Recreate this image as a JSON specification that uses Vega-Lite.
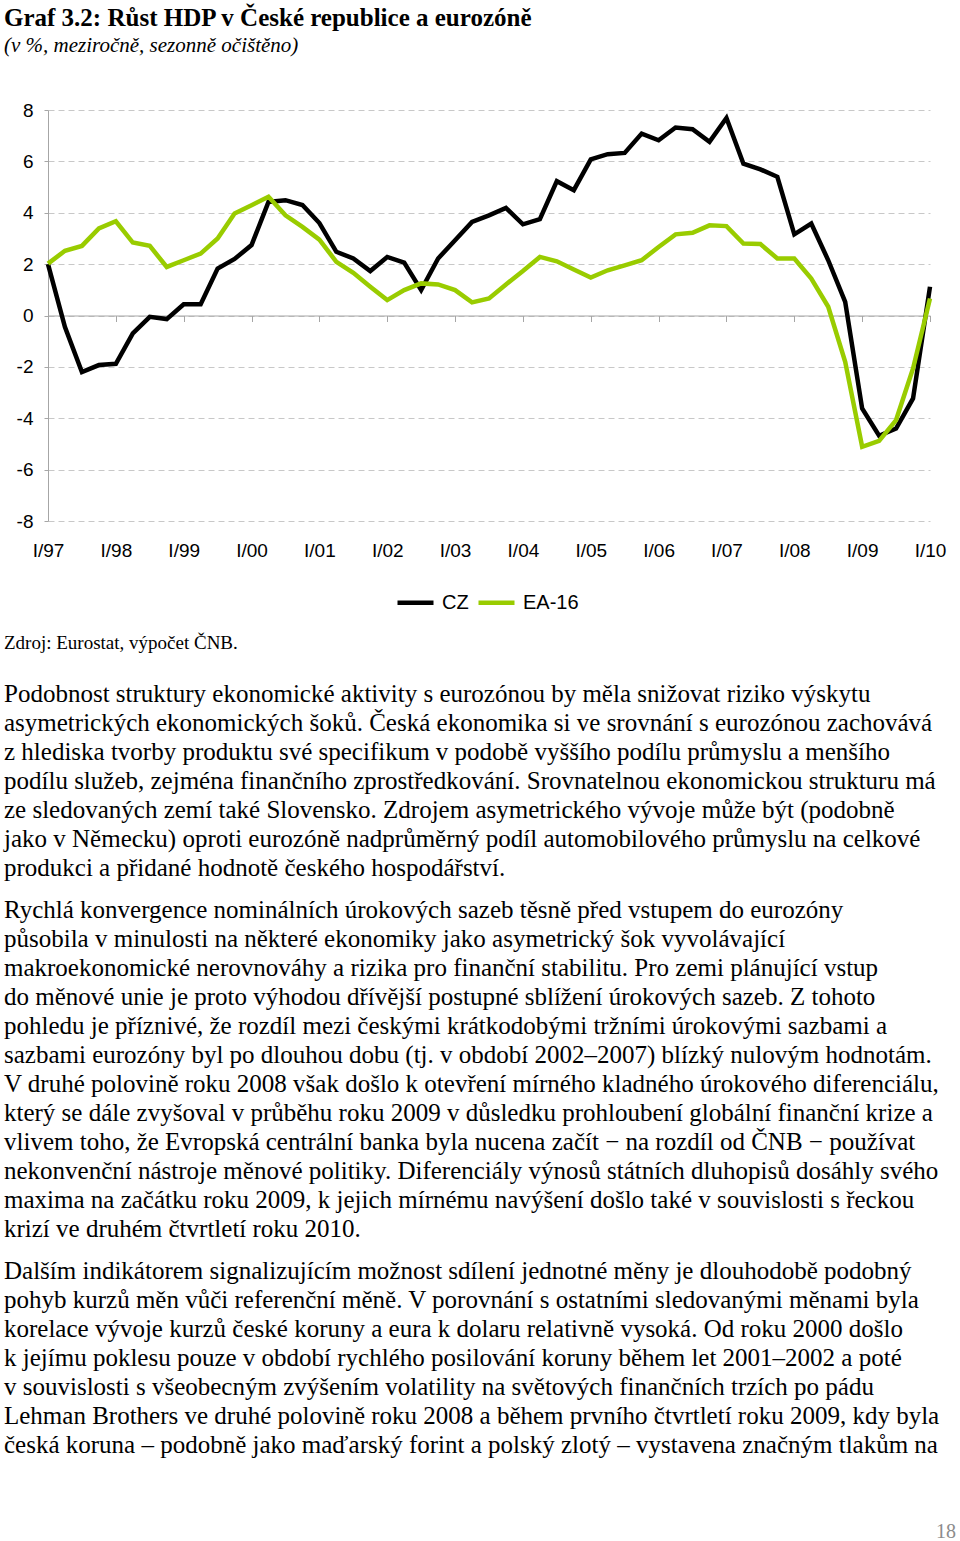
{
  "$schema": "https://vega.github.io/schema/vega-lite/v6.json",
  "padding": {"left": 4, "top": 6, "right": 0, "bottom": 0},
  "background": "white",
  "bounds": "flush",
  "spacing": 107,
  "resolve": {"legend": {"color": "independent"}},
  "title": {
    "text": "Graf 3.2: Růst HDP v České republice a eurozóně",
    "subtitle": "(v %, meziročně, sezonně očištěno)",
    "anchor": "start",
    "frame": "bounds",
    "font": "Liberation Serif",
    "fontSize": 25,
    "fontWeight": "bold",
    "color": "#000000",
    "subtitleFont": "Liberation Serif",
    "subtitleFontSize": 21,
    "subtitleFontStyle": "italic",
    "subtitleColor": "#000000",
    "subtitlePadding": 4,
    "offset": 45
  },
  "config": {"view": {"stroke": null}},
  "vconcat": [
    {
      "width": 882,
      "height": 411,
      "data": {"values": [
        {"q":"I/97","s":"CZ","v":2.0},{"q":"II/97","s":"CZ","v":-0.45},{"q":"III/97","s":"CZ","v":-2.2},{"q":"IV/97","s":"CZ","v":-1.93},
        {"q":"I/98","s":"CZ","v":-1.88},{"q":"II/98","s":"CZ","v":-0.7},{"q":"III/98","s":"CZ","v":-0.05},{"q":"IV/98","s":"CZ","v":-0.14},
        {"q":"I/99","s":"CZ","v":0.44},{"q":"II/99","s":"CZ","v":0.44},{"q":"III/99","s":"CZ","v":1.83},{"q":"IV/99","s":"CZ","v":2.2},
        {"q":"I/00","s":"CZ","v":2.74},{"q":"II/00","s":"CZ","v":4.42},{"q":"III/00","s":"CZ","v":4.49},{"q":"IV/00","s":"CZ","v":4.3},
        {"q":"I/01","s":"CZ","v":3.6},{"q":"II/01","s":"CZ","v":2.48},{"q":"III/01","s":"CZ","v":2.22},{"q":"IV/01","s":"CZ","v":1.73},
        {"q":"I/02","s":"CZ","v":2.28},{"q":"II/02","s":"CZ","v":2.06},{"q":"III/02","s":"CZ","v":0.99},{"q":"IV/02","s":"CZ","v":2.22},
        {"q":"I/03","s":"CZ","v":2.93},{"q":"II/03","s":"CZ","v":3.64},{"q":"III/03","s":"CZ","v":3.9},{"q":"IV/03","s":"CZ","v":4.19},
        {"q":"I/04","s":"CZ","v":3.55},{"q":"II/04","s":"CZ","v":3.75},{"q":"III/04","s":"CZ","v":5.23},{"q":"IV/04","s":"CZ","v":4.88},
        {"q":"I/05","s":"CZ","v":6.08},{"q":"II/05","s":"CZ","v":6.28},{"q":"III/05","s":"CZ","v":6.33},{"q":"IV/05","s":"CZ","v":7.08},
        {"q":"I/06","s":"CZ","v":6.82},{"q":"II/06","s":"CZ","v":7.32},{"q":"III/06","s":"CZ","v":7.25},{"q":"IV/06","s":"CZ","v":6.76},
        {"q":"I/07","s":"CZ","v":7.69},{"q":"II/07","s":"CZ","v":5.91},{"q":"III/07","s":"CZ","v":5.69},{"q":"IV/07","s":"CZ","v":5.4},
        {"q":"I/08","s":"CZ","v":3.16},{"q":"II/08","s":"CZ","v":3.58},{"q":"III/08","s":"CZ","v":2.15},{"q":"IV/08","s":"CZ","v":0.53},
        {"q":"I/09","s":"CZ","v":-3.62},{"q":"II/09","s":"CZ","v":-4.68},{"q":"III/09","s":"CZ","v":-4.4},{"q":"IV/09","s":"CZ","v":-3.23},
        {"q":"I/10","s":"CZ","v":1.12},
        {"q":"I/97","s":"EA-16","v":2.02},{"q":"II/97","s":"EA-16","v":2.52},{"q":"III/97","s":"EA-16","v":2.71},{"q":"IV/97","s":"EA-16","v":3.39},
        {"q":"I/98","s":"EA-16","v":3.67},{"q":"II/98","s":"EA-16","v":2.84},{"q":"III/98","s":"EA-16","v":2.71},{"q":"IV/98","s":"EA-16","v":1.89},
        {"q":"I/99","s":"EA-16","v":2.15},{"q":"II/99","s":"EA-16","v":2.41},{"q":"III/99","s":"EA-16","v":3.0},{"q":"IV/99","s":"EA-16","v":3.97},
        {"q":"I/00","s":"EA-16","v":4.29},{"q":"II/00","s":"EA-16","v":4.62},{"q":"III/00","s":"EA-16","v":3.9},{"q":"IV/00","s":"EA-16","v":3.45},
        {"q":"I/01","s":"EA-16","v":2.95},{"q":"II/01","s":"EA-16","v":2.09},{"q":"III/01","s":"EA-16","v":1.66},{"q":"IV/01","s":"EA-16","v":1.12},
        {"q":"I/02","s":"EA-16","v":0.6},{"q":"II/02","s":"EA-16","v":0.99},{"q":"III/02","s":"EA-16","v":1.25},{"q":"IV/02","s":"EA-16","v":1.21},
        {"q":"I/03","s":"EA-16","v":0.99},{"q":"II/03","s":"EA-16","v":0.51},{"q":"III/03","s":"EA-16","v":0.66},{"q":"IV/03","s":"EA-16","v":1.21},
        {"q":"I/04","s":"EA-16","v":1.73},{"q":"II/04","s":"EA-16","v":2.28},{"q":"III/04","s":"EA-16","v":2.11},{"q":"IV/04","s":"EA-16","v":1.79},
        {"q":"I/05","s":"EA-16","v":1.48},{"q":"II/05","s":"EA-16","v":1.76},{"q":"III/05","s":"EA-16","v":1.95},{"q":"IV/05","s":"EA-16","v":2.15},
        {"q":"I/06","s":"EA-16","v":2.67},{"q":"II/06","s":"EA-16","v":3.16},{"q":"III/06","s":"EA-16","v":3.22},{"q":"IV/06","s":"EA-16","v":3.51},
        {"q":"I/07","s":"EA-16","v":3.48},{"q":"II/07","s":"EA-16","v":2.8},{"q":"III/07","s":"EA-16","v":2.78},{"q":"IV/07","s":"EA-16","v":2.22},
        {"q":"I/08","s":"EA-16","v":2.22},{"q":"II/08","s":"EA-16","v":1.44},{"q":"III/08","s":"EA-16","v":0.34},{"q":"IV/08","s":"EA-16","v":-1.8},
        {"q":"I/09","s":"EA-16","v":-5.11},{"q":"II/09","s":"EA-16","v":-4.88},{"q":"III/09","s":"EA-16","v":-4.07},{"q":"IV/09","s":"EA-16","v":-2.06},
        {"q":"I/10","s":"EA-16","v":0.66}
      ]},
      "mark": {"type": "line", "strokeWidth": 4.5, "strokeJoin": "miter"},
      "encoding": {
        "x": {
          "field": "q", "type": "ordinal", "sort": null,
          "scale": {"type": "point", "padding": 0},
          "axis": {
            "title": null,
            "values": ["I/97","I/98","I/99","I/00","I/01","I/02","I/03","I/04","I/05","I/06","I/07","I/08","I/09","I/10"],
            "labelAngle": 0, "offset": -205.5, "domainColor": "#a6a6a6", "tickColor": "#a6a6a6",
            "tickSize": 6, "labelPadding": 220, "labelFont": "Liberation Sans", "labelFontSize": 19,
            "labelColor": "#000000", "grid": false, "labelOverlap": false
          }
        },
        "y": {
          "field": "v", "type": "quantitative",
          "scale": {"domain": [-8, 8], "nice": false},
          "axis": {
            "title": null, "values": [-8,-6,-4,-2,0,2,4,6,8], "grid": true, "gridDash": [6,4],
            "gridColor": "#c8c8c8", "domainColor": "#a6a6a6", "tickColor": "#a6a6a6", "tickSize": 4,
            "labelExpr": "toString(datum.value)",
            "labelFont": "Liberation Sans", "labelFontSize": 19, "labelPadding": 11, "labelColor": "#000000"
          }
        },
        "color": {
          "field": "s", "type": "nominal",
          "scale": {"domain": ["CZ", "EA-16"], "range": ["#000000", "#99cc00"]},
          "legend": {
            "title": null, "orient": "none", "legendX": 347, "legendY": 472, "direction": "horizontal", "symbolType": "stroke",
            "symbolSize": 1296, "symbolStrokeWidth": 4.5, "labelFont": "Liberation Sans", "labelFontSize": 20,
            "labelColor": "#000000", "columnPadding": 0, "labelOffset": 6
          }
        }
      }
    },
    {
      "bounds": "flush",
      "spacing": 22,
      "vconcat": [
        {
          "width": 882,
          "height": {"step": 29},
          "data": {"values": [{"line": 1, "text": "Zdroj: Eurostat, výpočet ČNB."}]},
          "mark": {"type": "text", "align": "left", "baseline": "middle", "font": "Liberation Serif", "fontSize": 19, "color": "#000000"},
          "encoding": {
            "y": {"field": "line", "type": "ordinal", "axis": null, "scale": {"type": "point", "padding": 0.5}},
            "x": {"value": -44},
            "text": {"field": "text"}
          }
        },
        {
          "bounds": "flush",
          "spacing": 13,
          "vconcat": [
            {
              "width": 882,
              "height": {"step": 29},
              "data": {"values": [
                {"line": 1, "text": "Podobnost struktury ekonomické aktivity s eurozónou by měla snižovat riziko výskytu"},
                {"line": 2, "text": "asymetrických ekonomických šoků. Česká ekonomika si ve srovnání s eurozónou zachovává"},
                {"line": 3, "text": "z hlediska tvorby produktu své specifikum v podobě vyššího podílu průmyslu a menšího"},
                {"line": 4, "text": "podílu služeb, zejména finančního zprostředkování. Srovnatelnou ekonomickou strukturu má"},
                {"line": 5, "text": "ze sledovaných zemí také Slovensko. Zdrojem asymetrického vývoje může být  (podobně"},
                {"line": 6, "text": "jako v Německu) oproti eurozóně nadprůměrný podíl automobilového průmyslu na celkové"},
                {"line": 7, "text": "produkci a přidané hodnotě českého hospodářství."}
              ]},
              "mark": {"type": "text", "align": "left", "baseline": "middle", "font": "Liberation Serif", "fontSize": 25, "color": "#000000"},
              "encoding": {
                "y": {"field": "line", "type": "ordinal", "axis": null, "scale": {"type": "point", "padding": 0.5}},
                "x": {"value": -44},
                "text": {"field": "text"}
              }
            },
            {
              "width": 882,
              "height": {"step": 29},
              "data": {"values": [
                {"line": 1, "text": "Rychlá konvergence nominálních úrokových sazeb těsně před vstupem do eurozóny"},
                {"line": 2, "text": "působila v minulosti na některé ekonomiky jako asymetrický šok vyvolávající"},
                {"line": 3, "text": "makroekonomické nerovnováhy a rizika pro finanční stabilitu. Pro zemi plánující vstup"},
                {"line": 4, "text": "do měnové unie je proto výhodou dřívější postupné sblížení úrokových sazeb. Z tohoto"},
                {"line": 5, "text": "pohledu je příznivé, že rozdíl mezi českými krátkodobými tržními úrokovými sazbami a"},
                {"line": 6, "text": "sazbami eurozóny byl po dlouhou dobu (tj. v období 2002–2007) blízký nulovým hodnotám."},
                {"line": 7, "text": "V druhé polovině roku 2008 však došlo k otevření mírného kladného úrokového diferenciálu,"},
                {"line": 8, "text": "který se dále zvyšoval v průběhu roku 2009 v důsledku prohloubení globální finanční krize a"},
                {"line": 9, "text": "vlivem toho, že Evropská centrální banka byla nucena začít − na rozdíl od ČNB − používat"},
                {"line": 10, "text": "nekonvenční nástroje měnové politiky. Diferenciály výnosů státních dluhopisů dosáhly svého"},
                {"line": 11, "text": "maxima na začátku roku 2009, k jejich mírnému navýšení došlo také v souvislosti s řeckou"},
                {"line": 12, "text": "krizí ve druhém čtvrtletí roku 2010."}
              ]},
              "mark": {"type": "text", "align": "left", "baseline": "middle", "font": "Liberation Serif", "fontSize": 25, "color": "#000000"},
              "encoding": {
                "y": {"field": "line", "type": "ordinal", "axis": null, "scale": {"type": "point", "padding": 0.5}},
                "x": {"value": -44},
                "text": {"field": "text"}
              }
            },
            {
              "width": 882,
              "height": {"step": 29},
              "data": {"values": [
                {"line": 1, "text": "Dalším indikátorem signalizujícím možnost sdílení jednotné měny je dlouhodobě podobný"},
                {"line": 2, "text": "pohyb kurzů měn vůči referenční měně. V porovnání s ostatními sledovanými měnami byla"},
                {"line": 3, "text": "korelace vývoje kurzů české koruny a eura k dolaru relativně vysoká. Od roku 2000 došlo"},
                {"line": 4, "text": "k jejímu poklesu pouze v období rychlého posilování koruny během let 2001–2002 a poté"},
                {"line": 5, "text": "v souvislosti s všeobecným zvýšením volatility na světových finančních trzích po pádu"},
                {"line": 6, "text": "Lehman Brothers ve druhé polovině roku 2008 a během prvního čtvrtletí roku 2009, kdy byla"},
                {"line": 7, "text": "česká koruna – podobně jako maďarský forint a polský zlotý – vystavena značným tlakům na"}
              ]},
              "mark": {"type": "text", "align": "left", "baseline": "middle", "font": "Liberation Serif", "fontSize": 25, "color": "#000000"},
              "encoding": {
                "y": {"field": "line", "type": "ordinal", "axis": null, "scale": {"type": "point", "padding": 0.5}},
                "x": {"value": -44},
                "text": {"field": "text"}
              }
            },
            {
              "width": 882,
              "height": 119,
              "data": {"values": [{"line": 1, "text": "18"}]},
              "mark": {"type": "text", "align": "right", "baseline": "middle", "font": "Liberation Serif", "fontSize": 20, "color": "#8c8c8c"},
              "encoding": {
                "y": {"field": "line", "type": "ordinal", "axis": null, "scale": {"type": "point", "padding": 0.5}},
                "x": {"value": 908},
                "text": {"field": "text"}
              }
            }
          ]
        }
      ]
    }
  ]
}
